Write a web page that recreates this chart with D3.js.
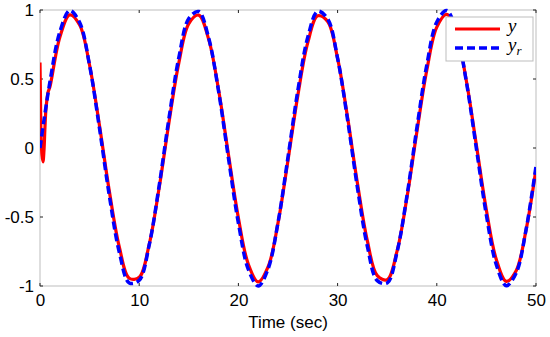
<!DOCTYPE html>
<html>
<head>
<meta charset="utf-8">
<script src="https://cdn.jsdelivr.net/npm/d3@7"></script>
<style>
  body { margin: 0; background: #fff; }
  text { font-family: "Liberation Sans", Arial, sans-serif; }
</style>
</head>
<body>
<div class="root"></div>
<script>
var width = 550;
var height = 337;

// values
var xTicks = [0, 10, 20, 30, 40, 50];
var yTicks = [-1, -0.5, 0, 0.5, 1];
var yTickLabels = ["-1", "-0.5", "0", "0.5", "1"];

var timeR = d3.range(0, 51);
var yr = [0, 0.479, 0.841, 0.997, 0.909, 0.598, 0.141, -0.351, -0.757, -0.978,
  -0.959, -0.706, -0.279, 0.215, 0.657, 0.938, 0.989, 0.798, 0.412, -0.075,
  -0.544, -0.880, -1.000, -0.875, -0.537, -0.066, 0.420, 0.804, 0.991, 0.935,
  0.650, 0.207, -0.288, -0.712, -0.961, -0.978, -0.751, -0.342, 0.150, 0.605,
  0.913, 0.996, 0.837, 0.471, -0.009, -0.487, -0.846, -0.998, -0.906, -0.591,
  -0.132];

var timeY = [0, 0.05, 0.1, 0.2, 0.3, 0.4, 0.5, 0.6, 0.8].concat(d3.range(1, 51));
var y = [0.62, 0.35, 0.1, -0.05, -0.1, -0.02, 0.15, 0.28, 0.4,
  0.443, 0.803, 0.965, 0.891, 0.600, 0.161, -0.318, -0.719, -0.944,
  -0.937, -0.702, -0.294, 0.185, 0.619, 0.901, 0.963, 0.789, 0.422, -0.049,
  -0.507, -0.842, -0.970, -0.860, -0.541, -0.088, 0.385, 0.765, 0.958, 0.916,
  0.649, 0.224, -0.256, -0.673, -0.925, -0.954, -0.745, -0.355, 0.121, 0.567,
  0.876, 0.968, 0.825, 0.478, 0.016, -0.451, -0.808, -0.966, -0.889, -0.593,
  -0.152];

var margin = {left: 40, right: 14, top: 10, bottom: 51};

var svg = d3.select(".root").append("svg")
  .attr("width", width)
  .attr("height", height);

var x = d3.scaleLinear().domain([0, 50]).range([margin.left, width - margin.right]);
var yScale = d3.scaleLinear().domain([-1, 1]).range([height - margin.bottom, margin.top]);

// frame
svg.append("rect")
  .attr("x", x(0)).attr("y", yScale(1))
  .attr("width", x(50) - x(0)).attr("height", yScale(-1) - yScale(1))
  .attr("fill", "none").attr("stroke", "#bdbdbd").attr("stroke-width", 1);

// axes
var xAxis = svg.append("g")
  .attr("transform", "translate(0," + yScale(-1) + ")")
  .call(d3.axisBottom(x).tickValues(xTicks).tickSize(0).tickPadding(8));
xAxis.select(".domain").remove();
xAxis.selectAll("text").attr("font-size", 17).attr("fill", "#000")
  .style("font-family", "Liberation Sans, Arial, sans-serif");

var yAxis = svg.append("g")
  .attr("transform", "translate(" + x(0) + ",0)")
  .call(d3.axisLeft(yScale).tickValues(yTicks).tickSize(0).tickPadding(6)
    .tickFormat(function (d, i) { return yTickLabels[i]; }));
yAxis.select(".domain").remove();
yAxis.selectAll("text").attr("font-size", 17).attr("fill", "#000")
  .style("font-family", "Liberation Sans, Arial, sans-serif");

// small inward ticks, all four sides
var tk = svg.append("g").attr("stroke", "#222").attr("stroke-width", 1);
xTicks.forEach(function (t) {
  tk.append("line").attr("x1", x(t)).attr("x2", x(t))
    .attr("y1", yScale(-1)).attr("y2", yScale(-1) - 3);
  tk.append("line").attr("x1", x(t)).attr("x2", x(t))
    .attr("y1", yScale(1)).attr("y2", yScale(1) + 3);
});
yTicks.forEach(function (t) {
  tk.append("line").attr("x1", x(0)).attr("x2", x(0) + 3)
    .attr("y1", yScale(t)).attr("y2", yScale(t));
  tk.append("line").attr("x1", x(50)).attr("x2", x(50) - 3)
    .attr("y1", yScale(t)).attr("y2", yScale(t));
});

svg.append("text")
  .attr("x", (x(0) + x(50)) / 2)
  .attr("y", 328)
  .attr("text-anchor", "middle")
  .attr("font-size", 17)
  .text("Time (sec)");

svg.append("clipPath").attr("id", "plotclip")
  .append("rect")
  .attr("x", x(0)).attr("y", yScale(1) - 3)
  .attr("width", x(50) - x(0)).attr("height", yScale(-1) - yScale(1) + 6);

var line = d3.line()
  .x(function (d) { return x(d[0]); })
  .y(function (d) { return yScale(d[1]); })
  .curve(d3.curveCatmullRom.alpha(0.5));

var plot = svg.append("g").attr("clip-path", "url(#plotclip)");

plot.append("path")
  .datum(d3.zip(timeY, y))
  .attr("d", line)
  .attr("fill", "none")
  .attr("stroke", "#ff0000")
  .attr("stroke-width", 3.2);

plot.append("path")
  .datum(d3.zip(timeR, yr))
  .attr("d", line)
  .attr("fill", "none")
  .attr("stroke", "#0000ff")
  .attr("stroke-width", 3.5)
  .attr("stroke-dasharray", "8,4");

// legend
var lg = svg.append("g");
lg.append("rect")
  .attr("x", 446).attr("y", 17).attr("width", 87).attr("height", 44)
  .attr("fill", "#fff").attr("stroke", "#bdbdbd").attr("stroke-width", 1);
lg.append("line")
  .attr("x1", 455).attr("x2", 500).attr("y1", 29).attr("y2", 29)
  .attr("stroke", "#ff0000").attr("stroke-width", 3.2);
lg.append("line")
  .attr("x1", 455).attr("x2", 500).attr("y1", 48).attr("y2", 48)
  .attr("stroke", "#0000ff").attr("stroke-width", 3.5)
  .attr("stroke-dasharray", "8,4");
lg.append("text")
  .attr("x", 508).attr("y", 32)
  .attr("font-size", 19)
  .style("font-family", "Liberation Serif, serif")
  .style("font-style", "italic")
  .text("y");
var yrText = lg.append("text")
  .attr("x", 508).attr("y", 51)
  .attr("font-size", 19)
  .style("font-family", "Liberation Serif, serif")
  .style("font-style", "italic");
yrText.append("tspan").text("y");
yrText.append("tspan").attr("dy", 4).attr("font-size", 13).text("r");
</script>
</body>
</html>
